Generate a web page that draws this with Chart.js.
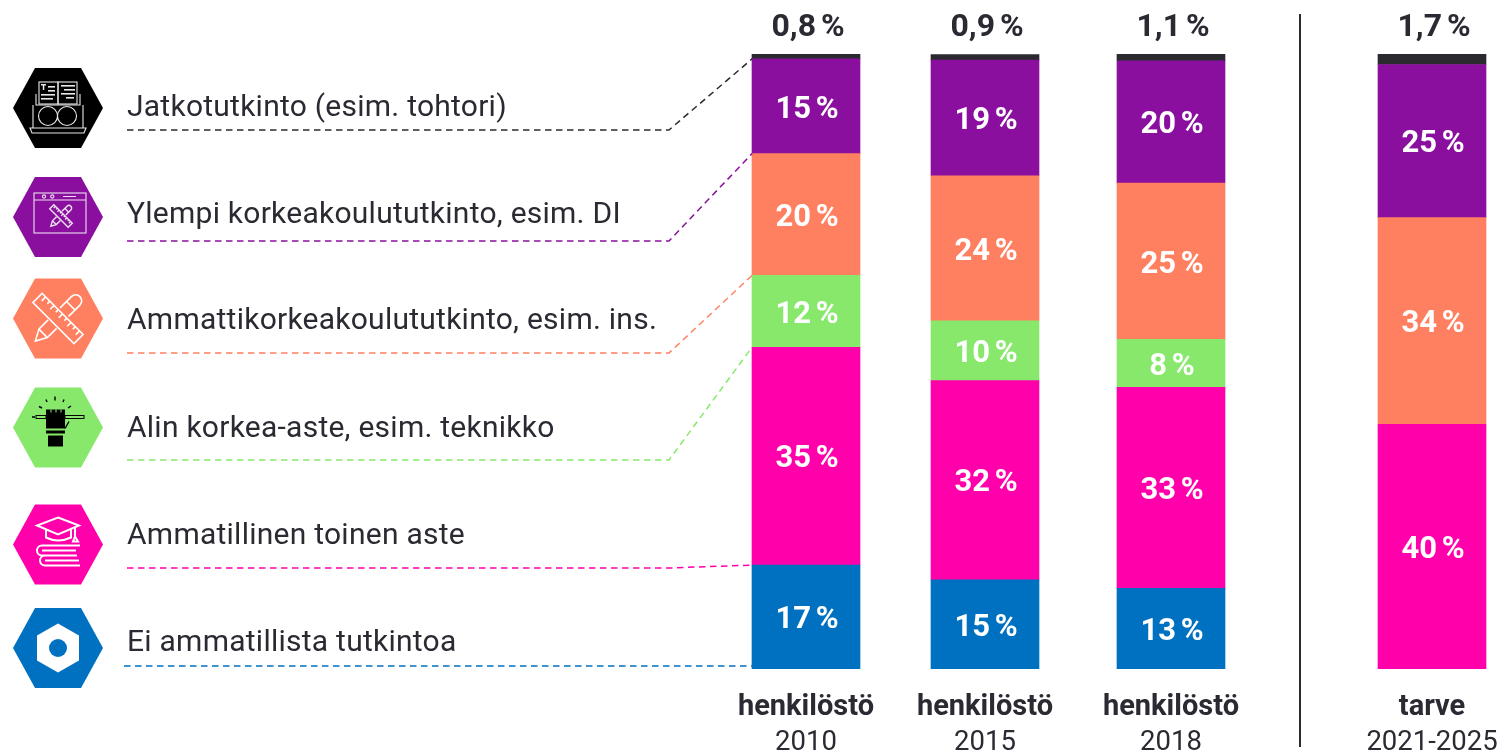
<!DOCTYPE html>
<html>
<head>
  <title>Koulutustaso</title>
  <style>
    body { margin: 0; background: #fff; }
    #canvas { display: block; }
  </style>
</head>
<body>
  <canvas id="canvas" width="1504" height="753"></canvas>
  <script src="https://cdn.jsdelivr.net/npm/chart.js"></script>
  <script>
    // Data, bottom to top of the stack
    const groupLabels = ['henkilöstö', 'henkilöstö', 'henkilöstö', 'tarve'];
    const yearLabels = ['2010', '2015', '2018', '2021-2025'];
    const seriesNames = [
      'Ei ammatillista tutkintoa',
      'Ammatillinen toinen aste',
      'Alin korkea-aste, esim. teknikko',
      'Ammattikorkeakoulututkinto, esim. ins.',
      'Ylempi korkeakoulututkinto, esim. DI',
      'Jatkotutkinto (esim. tohtori)'
    ];
    const noDegree = [16.9, 14.5, 13.1, null];
    const vocational = [35.4, 32.4, 32.7, 39.8];
    const lowestTertiary = [11.7, 9.7, 7.8, null];
    const polytechnic = [19.8, 23.6, 25.4, 33.6];
    const university = [15.4, 18.8, 19.9, 24.9];
    const doctorate = [0.8, 0.9, 1.1, 1.7];

    // Layout
    const barCentres = [806, 985, 1171, 1432];
    const colors = ['#0071c1', '#ff00aa', '#88e86c', '#ff8060', '#8a0f9f', '#2b2a30'];
    const dark = '#2b2a33';
    const fontName = 'Roboto, sans-serif';
    const rows = [
      // series index, hexagon centre y, text y, leader y
      { s: 5, hex: 108, text: 106, lead: 130, x0: 127 },
      { s: 4, hex: 217, text: 213, lead: 241, x0: 127 },
      { s: 3, hex: 318.5, text: 319, lead: 353, x0: 127 },
      { s: 2, hex: 427.5, text: 427, lead: 460, x0: 127 },
      { s: 1, hex: 544.5, text: 534, lead: 568, x0: 127 },
      { s: 0, hex: 648, text: 641, lead: 666, x0: 124 }
    ];

    const seriesValues = [noDegree, vocational, lowestTertiary, polytechnic, university, doctorate];

    function tools(ctx, cx, cy, k, lw) {
      // crossed ruler and pencil
      ctx.save();
      ctx.translate(cx, cy);
      ctx.lineWidth = lw;
      ctx.rotate(Math.PI / 4);
      ctx.strokeRect(-29 * k, -6.5 * k, 58 * k, 13 * k);
      ctx.beginPath();
      for (let i = -24; i <= 24; i += 6) {
        ctx.moveTo(i * k, -6.5 * k);
        ctx.lineTo(i * k, (i % 12 === 0 ? -1 : -3) * k);
      }
      ctx.stroke();
      ctx.rotate(-Math.PI / 2);
      ctx.beginPath();
      ctx.moveTo(-8 * k, -6 * k);
      ctx.lineTo(-21 * k, -6 * k);
      ctx.lineTo(-32 * k, 0);
      ctx.lineTo(-21 * k, 6 * k);
      ctx.lineTo(-8 * k, 6 * k);
      ctx.moveTo(9 * k, -6 * k);
      ctx.lineTo(25 * k, -6 * k);
      ctx.arc(25 * k, 0, 6 * k, -Math.PI / 2, Math.PI / 2);
      ctx.lineTo(9 * k, 6 * k);
      ctx.moveTo(-21 * k, -6 * k);
      ctx.lineTo(-21 * k, 6 * k);
      ctx.moveTo(18 * k, -6 * k);
      ctx.lineTo(18 * k, 6 * k);
      ctx.stroke();
      ctx.restore();
    }

    const icons = {
      5(ctx) {
        ctx.strokeStyle = '#e8e8e8';
        ctx.fillStyle = '#e8e8e8';
        ctx.lineWidth = 1.1;
        ctx.strokeRect(-19, -26, 19, 22);
        ctx.strokeRect(0, -26, 19, 22);
        ctx.beginPath();
        ctx.moveTo(-22, -14); ctx.lineTo(-22, -3); ctx.lineTo(22, -3); ctx.lineTo(22, -14);
        ctx.moveTo(-25, -3); ctx.lineTo(-25, 20); ctx.moveTo(25, -3); ctx.lineTo(25, 20);
        ctx.moveTo(-28, 20); ctx.lineTo(28, 20); ctx.lineTo(26, 25); ctx.lineTo(-26, 25); ctx.closePath();
        ctx.stroke();
        ctx.beginPath();
        ctx.arc(-10, 8, 9.5, 0, Math.PI * 2);
        ctx.moveTo(18.5, 8);
        ctx.arc(9, 8, 9.5, 0, Math.PI * 2);
        ctx.moveTo(-1, 6); ctx.lineTo(0, 6);
        ctx.stroke();
        [[-10, -22, 7], [-10, -18, 7], [-17, -14, 14], [-17, -10, 12], [3, -23, 14], [6, -19, 11], [3, -15, 14], [8, -11, 8]].forEach(p => {
          ctx.fillRect(p[0], p[1], p[2], 1.6);
        });
        ctx.fillRect(-17, -24, 5, 1.5);
        ctx.fillRect(-15.2, -24, 1.5, 6);
      },
      4(ctx) {
        ctx.strokeStyle = '#eee0f0';
        ctx.lineWidth = 1.1;
        ctx.strokeRect(-24, -24, 52, 40);
        ctx.beginPath();
        ctx.moveTo(-24, -17); ctx.lineTo(28, -17);
        ctx.moveTo(5, -20.5); ctx.lineTo(18, -20.5);
        ctx.moveTo(-12, -20.5); ctx.arc(-14, -20.5, 1.6, 0, Math.PI * 2);
        ctx.moveTo(-4, -20.5); ctx.arc(-5.7, -20.5, 1.6, 0, Math.PI * 2);
        ctx.stroke();
        tools(ctx, 3, -1, 0.45, 1.4);
      },
      3(ctx) {
        ctx.strokeStyle = '#fff';
        tools(ctx, 0, 0, 1, 1.6);
      },
      2(ctx) {
        ctx.fillStyle = '#000';
        ctx.strokeStyle = '#000';
        ctx.fillRect(-12, -18, 19, 19);
        ctx.fillRect(-12, 3, 19, 3);
        ctx.fillRect(-10, 8, 15, 11);
        ctx.fillStyle = '#88e86c';
        ctx.fillRect(-7.5, -18, 1, 3);
        ctx.fillRect(-2.5, -18, 1, 3);
        ctx.fillRect(2.5, -18, 1, 3);
        ctx.lineWidth = 1;
        ctx.strokeRect(-22, -12, 10, 3);
        ctx.strokeRect(7, -12, 19, 3);
        ctx.lineWidth = 1.4;
        ctx.beginPath();
        ctx.moveTo(-26, -10.5); ctx.lineTo(-23, -10.5);
        ctx.moveTo(-19, -21); ctx.lineTo(-16, -19.5);
        ctx.moveTo(-12, -28); ctx.lineTo(-11, -25.5);
        ctx.moveTo(-3, -31); ctx.lineTo(-3, -27);
        ctx.moveTo(6, -28); ctx.lineTo(5, -25.5);
        ctx.moveTo(13, -21.5); ctx.lineTo(10, -19.5);
        ctx.moveTo(7, 1); ctx.lineTo(11, -6);
        ctx.stroke();
      },
      1(ctx) {
        ctx.strokeStyle = '#fff';
        ctx.lineWidth = 2;
        ctx.beginPath();
        ctx.moveTo(0, -27); ctx.lineTo(21, -19); ctx.lineTo(0, -10); ctx.lineTo(-21, -19); ctx.closePath();
        ctx.moveTo(-12, -15); ctx.lineTo(-12, -7);
        ctx.quadraticCurveTo(0, -1, 13, -7);
        ctx.lineTo(13, -15);
        ctx.moveTo(17, -17); ctx.lineTo(17, -8);
        ctx.moveTo(17, -8); ctx.lineTo(20, -3); ctx.lineTo(15, -3); ctx.closePath();
        ctx.moveTo(22, 1); ctx.lineTo(-16, 1);
        ctx.arc(-16, 6, 5, -Math.PI / 2, Math.PI / 2, true);
        ctx.lineTo(19, 11);
        ctx.moveTo(-16, 6); ctx.lineTo(18, 6);
        ctx.moveTo(-13, 11);
        ctx.arc(-13, 16, 5, -Math.PI / 2, Math.PI / 2, true);
        ctx.lineTo(22, 21);
        ctx.moveTo(-13, 16); ctx.lineTo(21, 16);
        ctx.stroke();
      },
      0(ctx) {
        ctx.fillStyle = '#fff';
        ctx.beginPath();
        ctx.moveTo(0, -24.5); ctx.lineTo(21, -12.5); ctx.lineTo(21, 12.5);
        ctx.lineTo(0, 24.5); ctx.lineTo(-21, 12.5); ctx.lineTo(-21, -12.5);
        ctx.closePath();
        ctx.fill();
        ctx.fillStyle = colors[0];
        ctx.beginPath();
        ctx.arc(0, 0, 9, 0, Math.PI * 2);
        ctx.fill();
      }
    };

    const chartText = {
      id: 'chartText',
      afterDatasetsDraw(chart) {
        const ctx = chart.ctx;
        const first = i => chart.getDatasetMeta(i).data[0];
        ctx.save();

        // Bar values
        ctx.textAlign = 'center';
        ctx.textBaseline = 'middle';
        ctx.wordSpacing = '-3px';
        chart.data.datasets.forEach((ds, i) => {
          chart.getDatasetMeta(i).data.forEach((bar, j) => {
            const v = ds.data[j].y;
            if (v === null) return;
            if (i === 5) {
              ctx.fillStyle = dark;
              ctx.font = 'bold 32px ' + fontName;
              ctx.fillText(v.toFixed(1).replace('.', ',') + ' %', bar.x + 2, 28);
            } else {
              ctx.fillStyle = '#fff';
              ctx.font = 'bold 31px ' + fontName;
              ctx.fillText(Math.round(v) + ' %', bar.x + 1, (bar.y + bar.base) / 2 + 3.5);
            }
          });
        });
        ctx.wordSpacing = '0px';

        // Left key: hexagon, name and leader line
        const barLeft = first(0).x - first(0).width / 2;
        rows.forEach(r => {
          ctx.fillStyle = r.s === 5 ? '#000' : colors[r.s];
          ctx.beginPath();
          ctx.moveTo(13, r.hex);
          ctx.lineTo(35, r.hex - 40);
          ctx.lineTo(81, r.hex - 40);
          ctx.lineTo(103, r.hex);
          ctx.lineTo(81, r.hex + 40);
          ctx.lineTo(35, r.hex + 40);
          ctx.closePath();
          ctx.fill();

          ctx.save();
          ctx.translate(58, r.hex);
          icons[r.s](ctx);
          ctx.restore();

          ctx.fillStyle = dark;
          ctx.font = '30px ' + fontName;
          ctx.letterSpacing = '0.25px';
          ctx.textAlign = 'left';
          ctx.fillText(seriesNames[r.s], 127, r.text + 2);
          ctx.letterSpacing = '0px';
          ctx.textAlign = 'center';

          ctx.strokeStyle = colors[r.s];
          ctx.lineWidth = 1.5;
          ctx.setLineDash([6.5, 4.5]);
          ctx.beginPath();
          ctx.moveTo(r.x0, r.lead);
          if (r.s === 0) {
            ctx.lineTo(barLeft, r.lead);
          } else {
            ctx.lineTo(669, r.lead);
            // ends on the top of the segment below this one
            ctx.lineTo(barLeft, first(r.s === 5 ? 4 : r.s - 1).y);
          }
          ctx.stroke();
          ctx.setLineDash([]);
        });

        // Divider between history and demand
        ctx.strokeStyle = dark;
        ctx.lineWidth = 2;
        ctx.beginPath();
        ctx.moveTo(1300, 14);
        ctx.lineTo(1300, 747);
        ctx.stroke();
        ctx.restore();
      }
    };

    // Ticks at the bars, plus the axis ends so the scale keeps its full width
    const barTicks = s => {
      s.ticks = [0, ...barCentres, 1504].map(v => ({ value: v }));
    };

    // Tick padding would shrink the plot sideways, so the gap comes from an invisible tick mark
    const hiddenTicks = len => ({
      drawOnChartArea: false,
      tickLength: len,
      tickColor: 'transparent'
    });

    const chart = new Chart(document.getElementById('canvas'), {
      type: 'bar',
      data: {
        datasets: seriesValues.map((values, i) => ({
          label: seriesNames[i],
          data: values.map((v, j) => ({ x: barCentres[j], y: v })),
          backgroundColor: colors[i],
          barThickness: 108
        }))
      },
      options: {
        responsive: false,
        animation: false,
        layout: { padding: { top: 54, left: 0, right: 0, bottom: 0 } },
        plugins: { legend: { display: false }, tooltip: { enabled: false } },
        scales: {
          y: { stacked: true, display: false, min: 0, max: 100 },
          x: {
            type: 'linear',
            stacked: true,
            offset: false,
            min: 0,
            max: 1504,
            weight: 0,
            grid: hiddenTicks(21),
            border: { display: false },
            afterBuildTicks: barTicks,
            afterFit: s => { s.height = 56; },
            ticks: {
              autoSkip: false,
              maxRotation: 0,
              padding: 0,
              color: dark,
              font: { family: fontName, size: 29, weight: 'bold' },
              callback: v => groupLabels[barCentres.indexOf(v)] || ''
            }
          },
          x2: {
            type: 'linear',
            position: 'bottom',
            offset: false,
            min: 0,
            max: 1504,
            weight: 1,
            grid: hiddenTicks(2),
            border: { display: false },
            afterBuildTicks: barTicks,
            afterFit: s => { s.height = 28; },
            ticks: {
              autoSkip: false,
              maxRotation: 0,
              padding: 0,
              color: dark,
              font: { family: fontName, size: 27.5 },
              callback: v => yearLabels[barCentres.indexOf(v)] || ''
            }
          }
        }
      },
      plugins: [chartText]
    });
  </script>
</body>
</html>
